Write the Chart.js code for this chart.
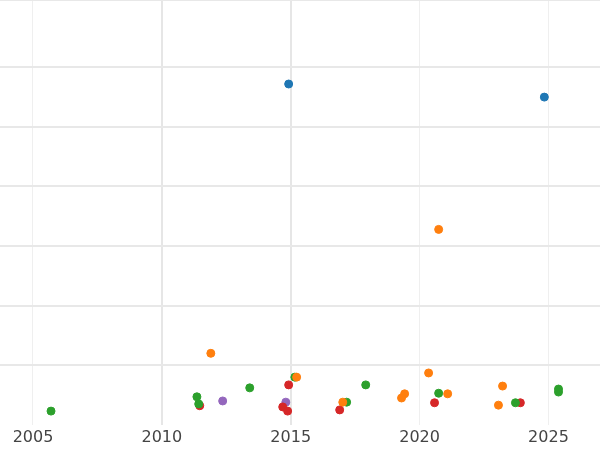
<!DOCTYPE html>
<html><head><meta charset="utf-8">
<script src="https://cdn.jsdelivr.net/npm/chart.js@4"></script>
<style>html,body{margin:0;padding:0;background:#fff}#w{width:600px;height:450px}</style>
</head><body><div id="w"><canvas id="c"></canvas></div>
<script>
const blueX=[2014.92,2024.84], blueY=[5.72,5.5];
const orangeX=[2011.90,2020.74,2015.23,2017.02,2020.35,2019.42,2019.30,2021.09,2023.22,2023.06];
const orangeY=[1.2,3.28,0.8,0.38,0.87,0.52,0.45,0.52,0.65,0.33];
const greenX=[2005.70,2011.36,2011.43,2013.41,2015.16,2017.17,2017.91,2020.74,2023.72,2025.39,2025.39];
const greenY=[0.23,0.47,0.35,0.62,0.8,0.38,0.67,0.53,0.37,0.6,0.55];
const redX=[2011.47,2014.92,2014.69,2014.88,2016.90,2020.58,2023.91];
const redY=[0.32,0.67,0.3,0.23,0.25,0.37,0.37];
const purpleX=[2012.36,2014.81], purpleY=[0.4,0.38];
const xTicks=[2005,2010,2015,2020,2025];
const pts=(xs,ys)=>xs.map((x,i)=>({x,y:ys[i]}));
const ds=(xs,ys,c)=>({data:pts(xs,ys),backgroundColor:c,borderColor:c,pointRadius:4,pointHoverRadius:4});
new Chart(document.getElementById('c'),{type:'scatter',
data:{datasets:[ds(blueX,blueY,'#1f77b4'),ds(orangeX,orangeY,'#ff7f0e'),ds(greenX,greenY,'#2ca02c'),ds(redX,redY,'#d62728'),ds(purpleX,purpleY,'#9467bd')]},
options:{responsive:true,maintainAspectRatio:false,animation:false,layout:{padding:0,autoPadding:false},
plugins:{legend:{display:false},tooltip:{enabled:false}},
scales:{
x:{type:'linear',min:2003.72,max:2027,afterBuildTicks:s=>{s.ticks=xTicks.map(v=>({value:v}));},
 border:{display:false},
 grid:{color:c=>(c.tick&&(c.tick.value===2010||c.tick.value===2015))?'#e6e6e6':'#efefef',lineWidth:c=>(c.tick&&(c.tick.value===2010||c.tick.value===2015))?2:1,drawTicks:false},
 ticks:{font:{size:16,family:'DejaVu Sans'},color:'#444',padding:3,callback:v=>String(v)}},
y:{min:0,max:7.13,ticks:{display:false,stepSize:1},border:{display:false},
 grid:{color:c=>(c.tick&&c.tick.value===0)?'rgba(0,0,0,0)':'#e8e8e8',lineWidth:2,drawTicks:false},afterFit:s=>{s.width=0;}}
}}});
</script></body></html>
